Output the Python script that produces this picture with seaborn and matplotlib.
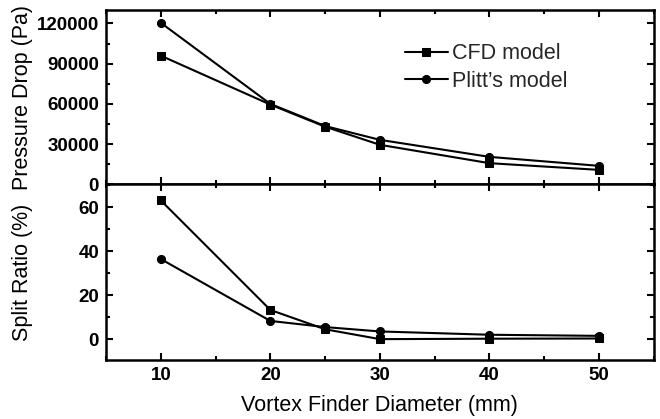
import matplotlib
matplotlib.use("Agg")
import matplotlib.pyplot as plt
import seaborn as sns
import pandas as pd
from matplotlib.ticker import MultipleLocator

sns.set_theme(style="ticks")
plt.rcParams['font.family'] = ['Liberation Sans', 'DejaVu Sans']

diameter = [10, 20, 25, 30, 40, 50]
cfd_pressure = [96000, 59500, 43000, 29500, 15800, 10800]
plitt_pressure = [120500, 60000, 43500, 33200, 20500, 13800]
cfd_split = [63.2, 13.3, 4.5, 0.0, 0.2, 0.3]
plitt_split = [36.5, 8.3, 5.5, 3.5, 2.0, 1.5]
series_names = ["CFD model", "Plitt\u2019s model"]

df = pd.DataFrame({
    "d": diameter * 2,
    "pressure": cfd_pressure + plitt_pressure,
    "split": cfd_split + plitt_split,
    "model": [series_names[0]] * len(diameter) + [series_names[1]] * len(diameter),
})

fig = plt.figure(figsize=(6.6, 4.19), dpi=100)
ax1 = fig.add_axes([0.1606, 0.560, 0.830, 0.416])
ax2 = fig.add_axes([0.1606, 0.1408, 0.830, 0.4192], sharex=ax1)

markers = {series_names[0]: "s", series_names[1]: "o"}
palette = {series_names[0]: "black", series_names[1]: "black"}

for ax, col in [(ax1, "pressure"), (ax2, "split")]:
    sns.lineplot(data=df, x="d", y=col, hue="model", style="model",
                 markers=markers, dashes=False, palette=palette,
                 markersize=5.8, linewidth=1.5, markeredgecolor="black",
                 ax=ax, legend=(ax is ax1))

ax1.set_xlim(5, 55)
ax1.set_ylim(0, 130000)
ax2.set_ylim(-9.5, 70.5)

ax1.yaxis.set_major_locator(MultipleLocator(30000))
ax1.yaxis.set_minor_locator(MultipleLocator(15000))
ax2.yaxis.set_major_locator(MultipleLocator(20))
ax2.yaxis.set_minor_locator(MultipleLocator(10))
ax1.xaxis.set_major_locator(MultipleLocator(10))
ax1.xaxis.set_minor_locator(MultipleLocator(5))

for ax in (ax1, ax2):
    for s in ax.spines.values():
        s.set_linewidth(1.8)
        s.set_color("black")
        s.set_visible(True)
    ax.tick_params(which="both", direction="in", top=True, right=True,
                   width=1.5, color="black")
    ax.tick_params(which="major", length=5, pad=5)
    ax.tick_params(which="minor", length=3)
    ax.tick_params(labelsize=13.5, labelcolor="black")
    for lbl in ax.get_xticklabels() + ax.get_yticklabels():
        lbl.set_fontweight("bold")

ax1.tick_params(labelbottom=False)
ax1.set_xlabel("")
ax1.set_ylabel("Pressure Drop (Pa)", fontsize=15.5, color="black")
ax2.set_ylabel("Split Ratio (%)", fontsize=15.5, color="black")
ax2.set_xlabel("Vortex Finder Diameter (mm)", fontsize=15.5, color="black", labelpad=8)
ax1.yaxis.set_label_coords(-0.133, 0.5)
ax2.yaxis.set_label_coords(-0.133, 0.5)

leg = ax1.legend(loc="upper left", bbox_to_anchor=(0.53, 0.86), frameon=False,
                 fontsize=15.5, handlelength=2.0, handletextpad=0.2,
                 labelspacing=0.3, borderaxespad=0)
for h in leg.legend_handles:
    h.set_color("black")

fig.savefig("out.png", dpi=100)
